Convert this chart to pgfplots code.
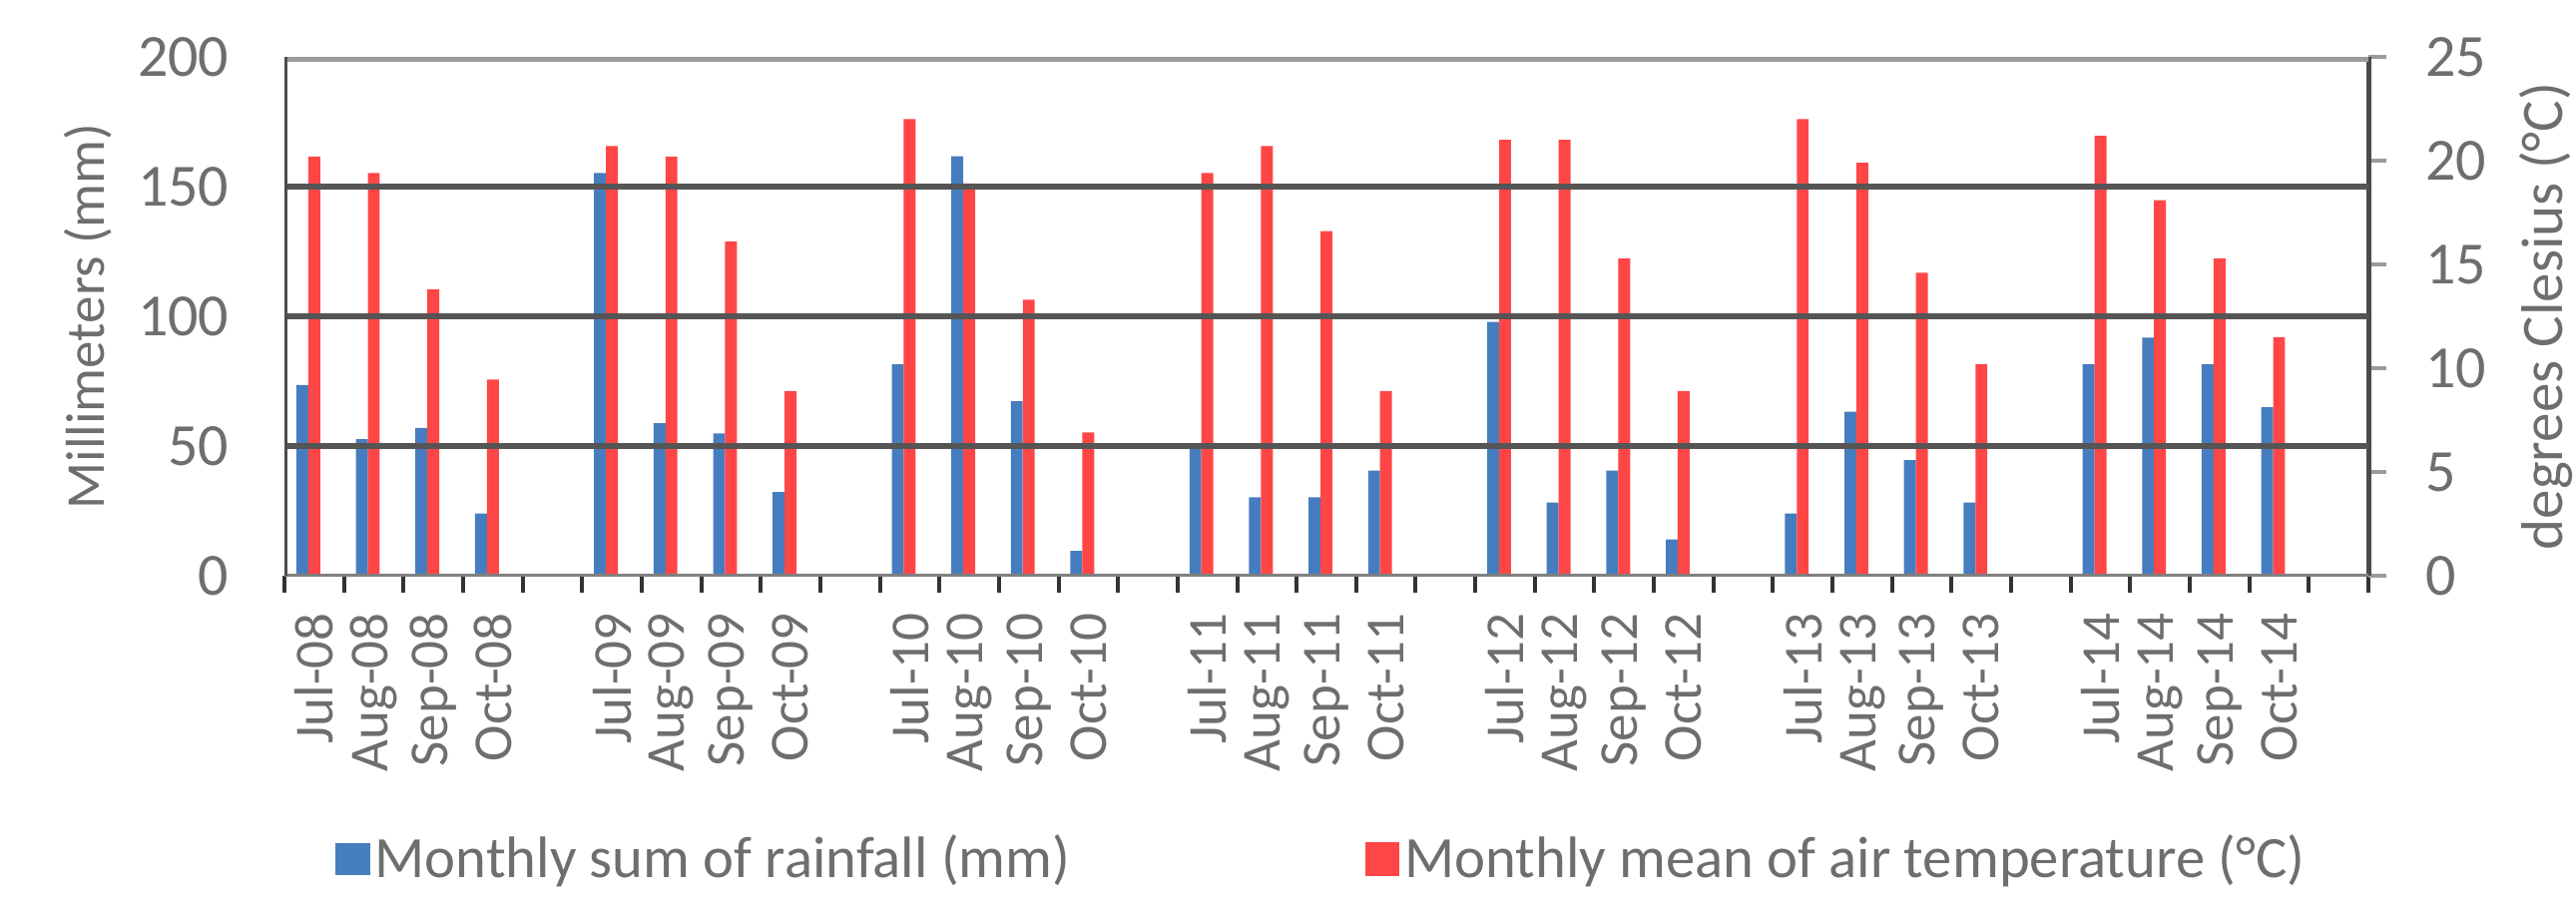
\documentclass[border=0pt]{standalone}
\usepackage{fontspec}
\setmainfont{Carlito}
\usepackage{pgfplots}
\pgfplotsset{compat=1.18}
\usepackage{pgfplotstable}
\definecolor{barblue}{RGB}{70,125,190}
\definecolor{barred}{RGB}{255,70,70}
\definecolor{txtgray}{RGB}{110,110,110}
\definecolor{gridc}{RGB}{85,85,85}
\definecolor{axdark}{RGB}{75,75,75}
\definecolor{topc}{RGB}{155,155,155}
\definecolor{botdark}{RGB}{128,128,128}
\definecolor{botlight}{RGB}{185,185,185}

\pgfplotstableread{
x rain temp
0 73.5 20.2
1 52.6 19.4
2 57.0 13.8
3 24.0 9.45
5 155.2 20.7
6 58.8 20.2
7 54.9 16.1
8 32.3 8.9
10 81.5 22.0
11 161.7 18.9
12 67.3 13.3
13 9.6 6.9
15 50.1 19.4
16 30.2 20.7
17 30.2 16.6
18 40.5 8.9
20 97.8 21.0
21 28.2 21.0
22 40.5 15.3
23 14.0 8.9
25 24.0 22.0
26 63.2 19.9
27 44.6 14.6
28 28.2 10.2
30 81.5 21.2
31 91.8 18.1
32 81.5 15.3
33 65.0 11.5
}\datatable

\begin{document}
\begin{tikzpicture}
\useasboundingbox (-85.5pt,-97.8pt) rectangle (688.8pt,173.1pt);
\begin{axis}[
  at={(0pt,0pt)}, anchor=south west, scale only axis,
  width=626.4pt, height=156pt,
  xmin=-0.5, xmax=34.5, ymin=0, ymax=200,
  axis x line*=bottom, axis y line*=left, axis line style={draw=none},
  axis on top,
  ytick={0,50,...,200},
  xtick={0,1,2,3,5,6,7,8,10,11,12,13,15,16,17,18,20,21,22,23,25,26,27,28,30,31,32,33},
  xticklabels={Jul-08,Aug-08,Sep-08,Oct-08,Jul-09,Aug-09,Sep-09,Oct-09,Jul-10,Aug-10,Sep-10,Oct-10,Jul-11,Aug-11,Sep-11,Oct-11,Jul-12,Aug-12,Sep-12,Oct-12,Jul-13,Aug-13,Sep-13,Oct-13,Jul-14,Aug-14,Sep-14,Oct-14},
  major tick length=0pt,
  minor xtick={-0.5,0.5,...,34.5},
  minor tick length=5pt,
  minor tick style={draw=black!80, line width=1.2pt},
  tick align=outside,
  /pgf/number format/assume math mode=true,
  yticklabel style={font=\fontsize{18}{20}\selectfont, text=txtgray, anchor=east, inner sep=0pt},
  yticklabel shift=16.5pt,
  xticklabel style={font=\fontsize{16.5}{18}\selectfont, text=txtgray, rotate=90, anchor=east, inner sep=0pt},
  xticklabel shift=11pt,
  ylabel={Millimeters (mm)},
  ylabel style={at={(axis description cs:-0.0943,0.5)}, anchor=center, font=\fontsize{16.5}{18}\selectfont, text=txtgray},
  legend columns=2,
  legend style={at={(axis description cs:0.024,-0.546)}, anchor=west, draw=none, fill=none,
    inner sep=0pt, font=\fontsize{17.6}{20}\selectfont, text=txtgray,
    nodes={inner sep=1.5pt},
    /tikz/every even column/.append style={column sep=87pt}},
]
\addplot[ybar, bar width=0.2, bar shift=-0.2, fill=barblue, draw=none,
  legend image code/.code={\fill[barblue] (0pt,-4.8pt) rectangle (10.5pt,4.8pt);}]
  table[x=x, y=rain]{\datatable};
\addlegendentry{Monthly sum of rainfall (mm)}
\addlegendimage{legend image code/.code={\fill[barred] (0pt,-4.8pt) rectangle (10pt,4.8pt);}}
\addlegendentry{Monthly mean of air temperature (°C)}
\draw[botlight, line width=2.1pt] ([yshift=-1.65pt]axis cs:-0.5,0) -- ([yshift=-1.65pt, xshift=5.5pt]axis cs:34.5,0);
\end{axis}
\begin{axis}[
  at={(0pt,0pt)}, anchor=south west, scale only axis,
  width=626.4pt, height=156pt,
  xmin=-0.5, xmax=34.5, ymin=0, ymax=25,
  axis x line=none, axis y line*=right,
  y axis line style={draw=axdark, line width=1.5pt},
  ytick={0,5,...,25},
  major tick length=5.5pt, tick align=outside,
  ytick style={draw=topc, line width=1.2pt},
  /pgf/number format/assume math mode=true,
  yticklabel style={font=\fontsize{18}{20}\selectfont, text=txtgray, anchor=west, inner sep=0pt},
  yticklabel shift=11.5pt,
  ylabel={degrees Clesius (°C)},
  ylabel style={at={(axis description cs:1.0853,0.5)}, anchor=center, font=\fontsize{17.7}{19}\selectfont, text=txtgray},
]
\addplot[ybar, bar width=0.2, bar shift=0, fill=barred, draw=none]
  table[x=x, y=temp]{\datatable};
\draw[gridc, line width=1.6pt] (axis cs:-0.5,6.25) -- (axis cs:34.5,6.25);
\draw[gridc, line width=1.6pt] (axis cs:-0.5,12.5) -- (axis cs:34.5,12.5);
\draw[gridc, line width=1.6pt] (axis cs:-0.5,18.75) -- (axis cs:34.5,18.75);
\draw[topc, line width=3pt] (axis cs:-0.5,25) -- ([xshift=5.5pt]axis cs:34.5,25);
\draw[botdark, line width=1.2pt] (axis cs:-0.5,0) -- ([xshift=5.5pt]axis cs:34.5,0);
\draw[axdark, line width=1.8pt] (axis cs:-0.5,0) -- (axis cs:-0.5,25.3);
\end{axis}
\end{tikzpicture}
\end{document}
